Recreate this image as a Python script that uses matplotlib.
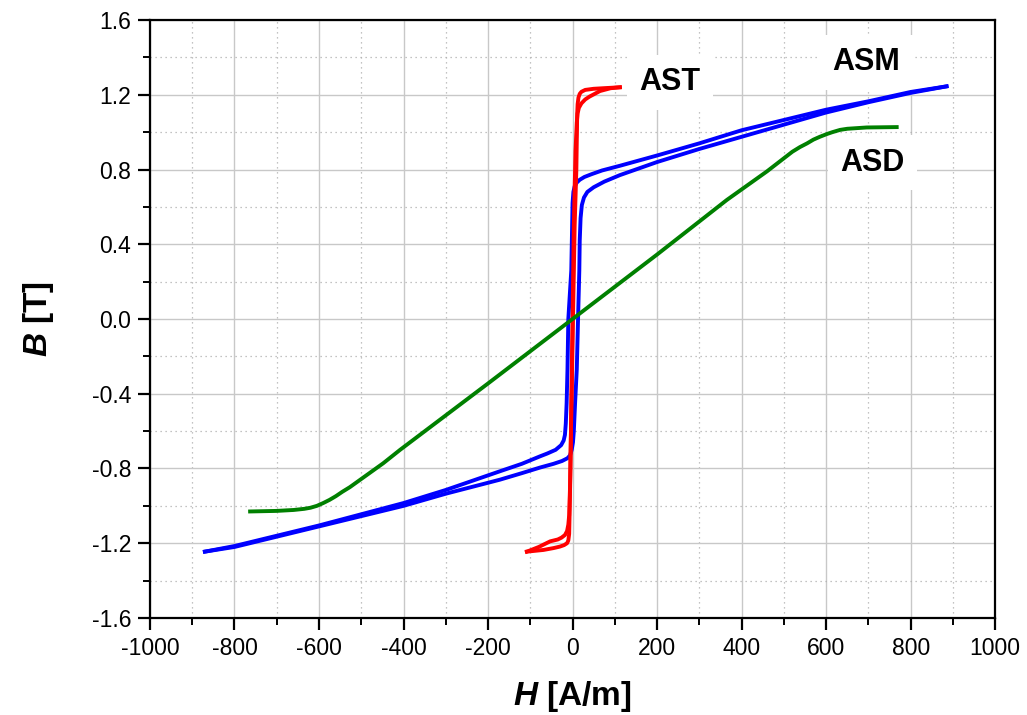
import matplotlib
matplotlib.use("Agg")
import matplotlib.pyplot as plt
from matplotlib.ticker import MultipleLocator

# ASM loop (blue): descending and ascending branches
ASM_DOWN_H = [885, 800, 700, 600, 500, 400, 300, 200, 112, 70, 45, 28, 17, 10, 5, 2, 0, -1, -3,
              -10, -12, -14, -16, -18, -21, -27, -40, -60, -77, -120, -172, -300, -400, -500,
              -600, -700, -800, -870]
ASM_DOWN_B = [1.245, 1.215, 1.165, 1.12, 1.065, 1.01, 0.94, 0.875, 0.82, 0.795, 0.775, 0.76,
              0.745, 0.73, 0.71, 0.68, 0.62, 0.5, 0.26, 0.0, -0.27, -0.45, -0.56, -0.62, -0.65,
              -0.675, -0.70, -0.72, -0.735, -0.775, -0.815, -0.915, -0.985, -1.045, -1.105,
              -1.16, -1.215, -1.245]
ASM_UP_H = [-870, -800, -700, -600, -500, -400, -300, -172, -120, -77, -45, -25, -12, -6, -2, 1,
            3, 6, 10, 13, 16, 17, 19, 22, 27, 35, 50, 75, 112, 200, 300, 400, 500, 600, 700,
            800, 885]
ASM_UP_B = [-1.245, -1.22, -1.165, -1.11, -1.055, -1.0, -0.935, -0.86, -0.825, -0.795, -0.775,
            -0.76, -0.745, -0.73, -0.70, -0.66, -0.60, -0.45, -0.27, 0.0, 0.26, 0.42, 0.54,
            0.61, 0.65, 0.68, 0.705, 0.735, 0.77, 0.84, 0.91, 0.975, 1.04, 1.105, 1.16, 1.21,
            1.245]

# AST loop (red)
AST_DOWN_H = [112, 80, 50, 30, 21, 17, 14, 12, 11, 9, 5, 1, -3, -6, -8, -10, -13, -18, -26,
              -35, -53, -80, -108]
AST_DOWN_B = [1.24, 1.236, 1.232, 1.226, 1.216, 1.205, 1.185, 1.15, 1.10, 0.8, 0.5, 0.0, -0.5,
              -0.9, -1.05, -1.1, -1.135, -1.156, -1.17, -1.18, -1.19, -1.22, -1.245]
AST_UP_H = [-108, -69, -45, -30, -20, -13, -10, -8, -7, -5, -2, 0, 3, 7, 10, 12, 15, 21, 30,
            40, 65, 90, 112]
AST_UP_B = [-1.245, -1.236, -1.226, -1.218, -1.21, -1.2, -1.185, -1.15, -1.05, -0.8, -0.3, 0.0,
            0.5, 0.9, 1.05, 1.10, 1.13, 1.154, 1.175, 1.19, 1.22, 1.235, 1.24]

# ASD curve (green)
ASD_H = [-763, -700, -660, -635, -620, -605, -590, -575, -560, -545, -527, -448, -408, -200, 0,
         200, 365, 460, 520, 538, 555, 570, 585, 602, 615, 633, 650, 696, 767]
ASD_B = [-1.03, -1.027, -1.022, -1.016, -1.01, -1.0, -0.985, -0.968, -0.948, -0.925, -0.90,
         -0.772, -0.70, -0.345, 0.0, 0.345, 0.637, 0.79, 0.895, 0.92, 0.94, 0.96, 0.975, 0.99,
         1.0, 1.012, 1.018, 1.025, 1.027]

LABELS = [("AST", 231, 1.268), ("ASM", 695, 1.375), ("ASD", 709, 0.835)]

plt.rcParams["font.family"] = ["Liberation Sans", "DejaVu Sans"]
plt.rcParams["axes.unicode_minus"] = False
plt.rcParams["mathtext.fontset"] = "custom"
plt.rcParams["mathtext.it"] = "Liberation Sans:italic:bold"
plt.rcParams["mathtext.rm"] = "Liberation Sans:bold"

fig = plt.figure(figsize=(10.27, 7.15), dpi=100)
ax = fig.add_axes([0.146, 0.1357, 0.823, 0.8363])

lw = 2.8
ax.plot(ASM_DOWN_H, ASM_DOWN_B, color="#0000ff", lw=lw, zorder=3, solid_joinstyle="round")
ax.plot(ASM_UP_H, ASM_UP_B, color="#0000ff", lw=lw, zorder=3, solid_joinstyle="round")
ax.plot(AST_DOWN_H, AST_DOWN_B, color="#ff0000", lw=lw, zorder=4, solid_joinstyle="round")
ax.plot(AST_UP_H, AST_UP_B, color="#ff0000", lw=lw, zorder=4, solid_joinstyle="round")
ax.plot(ASD_H, ASD_B, color="#008000", lw=lw, zorder=5, solid_joinstyle="round")

for txt, x, y in LABELS:
    ax.text(x, y, txt, fontsize=22, fontweight="bold", ha="center", va="center", zorder=2,
            bbox=dict(facecolor="white", edgecolor="none", pad=9))

ax.set_xlim(-1000, 1000)
ax.set_ylim(-1.6, 1.6)
ax.xaxis.set_major_locator(MultipleLocator(200))
ax.xaxis.set_minor_locator(MultipleLocator(100))
ax.yaxis.set_major_locator(MultipleLocator(0.4))
ax.yaxis.set_minor_locator(MultipleLocator(0.2))
ax.yaxis.set_major_formatter(plt.FuncFormatter(lambda v, p: f"{v:.1f}"))

ax.grid(which="major", color="#c8c8c8", lw=1.0, ls="-", zorder=0)
ax.grid(which="minor", color="#b0b0b0", lw=0.9, ls=(0, (1, 3)), zorder=0)
ax.set_axisbelow(True)

for s in ax.spines.values():
    s.set_linewidth(1.6)
ax.tick_params(which="major", direction="out", length=8.5, width=1.6, labelsize=16.5, pad=5)
ax.tick_params(which="minor", direction="out", length=5, width=1.4)

ax.set_xlabel("$H$ [A/m]", fontsize=24, fontweight="bold", labelpad=14)
ax.set_ylabel("$B$ [T]", fontsize=24, fontweight="bold", labelpad=26)

fig.savefig("out.png", dpi=100)
